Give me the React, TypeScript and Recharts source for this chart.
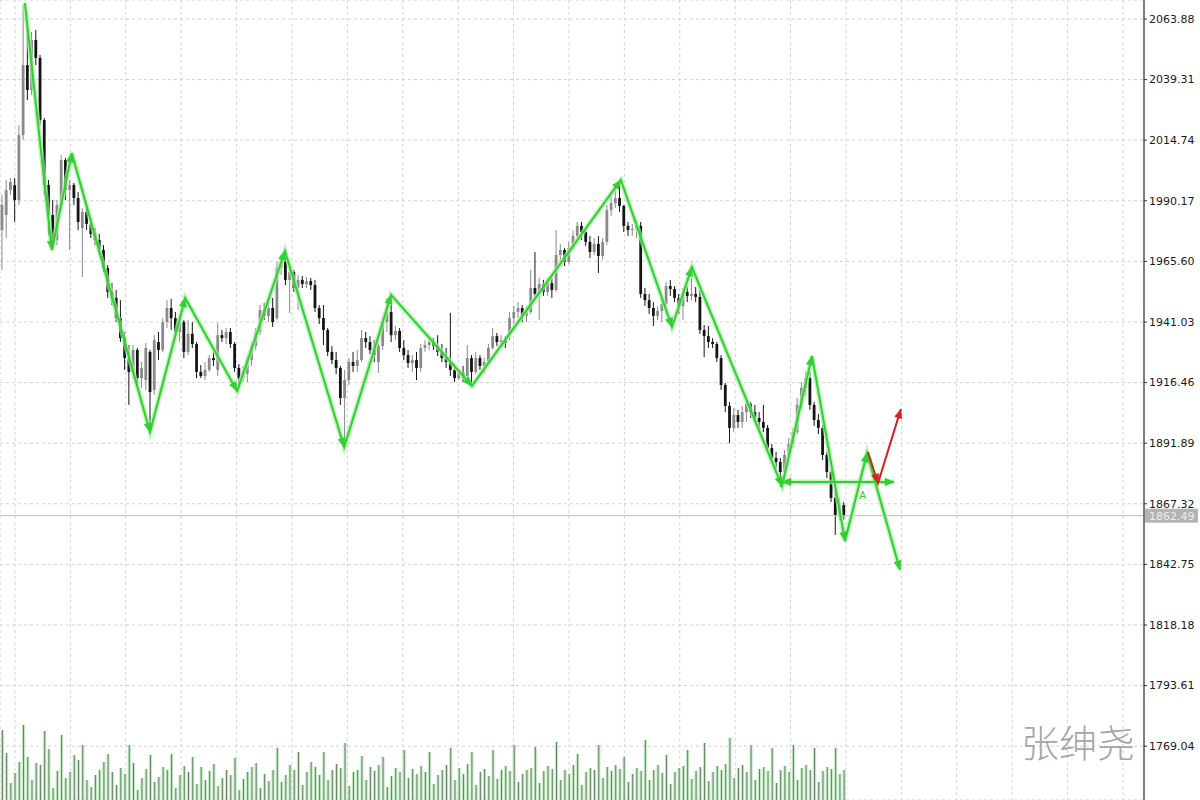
import React from 'react';
import {
  ComposedChart,
  Bar,
  Line,
  XAxis,
  YAxis,
  CartesianGrid,
  ReferenceLine,
  ReferenceDot,
} from 'recharts';

// [open, high, low, close]
const candles: [number, number, number, number][] = [
  [1978.3, 1992.5, 1962.1, 1988.5], [1984.4, 1998.6, 1975.1, 1994.5], [1994.5, 1999.4, 1992.5, 1997.8], [1996.5, 1999.4, 1981.6, 1990.5],
  [1990.5, 2020.9, 1988.5, 2016.8], [2016.8, 2069.6, 2014.8, 2045.2], [2045.2, 2063.5, 2031.0, 2035.1], [2035.1, 2058.6, 2033.1, 2055.4],
  [2055.4, 2059.4, 2045.2, 2048.1], [2048.1, 2049.3, 2020.9, 2022.9], [2022.9, 2023.7, 1992.5, 1996.6], [1996.6, 1998.6, 1976.3, 1984.4],
  [1984.4, 1990.5, 1971.0, 1974.3], [1974.3, 1990.5, 1972.2, 1988.5], [1988.5, 2008.7, 1986.4, 2006.7], [2006.7, 2007.5, 1990.5, 1994.5],
  [1994.5, 1998.6, 1970.2, 1996.6], [1996.6, 1997.4, 1988.5, 1991.3], [1991.3, 1993.7, 1978.3, 1981.6], [1979.1, 1987.2, 1959.3, 1985.6],
  [1985.6, 1987.2, 1978.3, 1980.8], [1980.8, 1983.2, 1975.1, 1976.7], [1976.7, 1979.1, 1972.2, 1974.3], [1974.3, 1976.7, 1968.2, 1970.2],
  [1970.2, 1972.2, 1961.3, 1962.9], [1962.9, 1964.1, 1950.8, 1953.2], [1953.2, 1956.8, 1947.9, 1950.8], [1950.8, 1954.0, 1941.0, 1942.6],
  [1942.6, 1949.9, 1932.9, 1934.5], [1934.5, 1937.0, 1921.6, 1926.4], [1926.4, 1931.7, 1907.4, 1920.8], [1920.8, 1931.7, 1918.3, 1929.7],
  [1929.7, 1930.5, 1915.5, 1918.3], [1918.3, 1924.8, 1914.3, 1922.4], [1917.5, 1932.5, 1913.5, 1930.5], [1928.9, 1929.7, 1898.1, 1912.6],
  [1913.5, 1935.7, 1911.4, 1933.7], [1932.9, 1937.0, 1925.6, 1929.7], [1929.7, 1942.6, 1928.9, 1941.0], [1941.0, 1949.9, 1938.6, 1946.7],
  [1946.7, 1950.4, 1937.8, 1942.6], [1942.6, 1945.1, 1934.5, 1937.0], [1937.0, 1942.6, 1932.9, 1941.0], [1941.0, 1941.8, 1926.4, 1928.9],
  [1928.9, 1941.8, 1927.6, 1936.2], [1936.2, 1941.0, 1930.5, 1932.1], [1932.1, 1932.9, 1918.3, 1920.8], [1920.8, 1923.6, 1918.3, 1919.1],
  [1919.1, 1924.8, 1917.5, 1921.6], [1921.6, 1927.6, 1920.8, 1926.4], [1926.4, 1928.9, 1923.2, 1925.6], [1921.6, 1940.6, 1919.1, 1935.7],
  [1935.7, 1937.8, 1932.9, 1934.5], [1934.5, 1938.6, 1932.1, 1937.0], [1937.0, 1938.6, 1930.5, 1932.1], [1932.1, 1932.9, 1920.8, 1922.4],
  [1922.4, 1924.0, 1914.3, 1918.3], [1918.3, 1923.2, 1916.7, 1920.8], [1920.0, 1927.2, 1916.7, 1925.6], [1925.6, 1932.9, 1923.2, 1931.3],
  [1931.3, 1938.6, 1929.7, 1937.0], [1937.0, 1947.9, 1935.7, 1945.9], [1945.9, 1948.7, 1941.8, 1943.5], [1943.5, 1949.9, 1941.0, 1946.7],
  [1946.7, 1950.8, 1939.0, 1941.0], [1942.6, 1965.4, 1941.8, 1962.9], [1962.9, 1968.2, 1960.1, 1965.4], [1965.4, 1967.0, 1956.0, 1958.1],
  [1958.1, 1962.9, 1944.7, 1961.3], [1961.3, 1962.1, 1953.2, 1954.8], [1954.8, 1960.1, 1945.9, 1958.1], [1958.1, 1959.7, 1954.8, 1956.4],
  [1956.4, 1959.3, 1954.8, 1957.6], [1957.6, 1958.9, 1954.0, 1956.0], [1956.0, 1958.1, 1945.1, 1946.7], [1946.7, 1947.9, 1940.2, 1942.6],
  [1942.6, 1947.9, 1931.7, 1937.8], [1937.8, 1938.6, 1927.2, 1928.9], [1928.9, 1931.3, 1924.0, 1925.6], [1925.6, 1928.9, 1919.9, 1922.4],
  [1922.4, 1923.2, 1907.4, 1910.2], [1910.2, 1921.6, 1892.4, 1917.5], [1917.5, 1926.4, 1915.5, 1924.8], [1924.8, 1928.9, 1920.8, 1923.2],
  [1923.2, 1929.7, 1920.8, 1925.6], [1925.6, 1937.8, 1924.8, 1934.5], [1934.5, 1937.0, 1930.5, 1932.9], [1932.9, 1935.3, 1928.0, 1929.7],
  [1929.7, 1933.7, 1924.8, 1927.6], [1924.8, 1932.5, 1920.4, 1931.3], [1931.3, 1942.6, 1929.7, 1941.0], [1941.0, 1950.8, 1937.0, 1945.1],
  [1945.1, 1947.9, 1932.9, 1935.7], [1935.7, 1939.4, 1933.7, 1937.4], [1937.4, 1938.6, 1928.9, 1930.5], [1930.5, 1933.7, 1925.6, 1927.6],
  [1927.6, 1929.7, 1922.4, 1924.4], [1924.4, 1927.6, 1920.8, 1925.6], [1925.6, 1928.9, 1917.5, 1922.4], [1922.4, 1932.1, 1920.8, 1930.5],
  [1930.5, 1933.7, 1928.9, 1931.7], [1931.7, 1934.9, 1929.7, 1932.9], [1932.9, 1934.5, 1929.7, 1931.3], [1931.3, 1935.7, 1927.2, 1928.9],
  [1928.9, 1932.1, 1924.8, 1926.4], [1926.4, 1930.5, 1922.4, 1924.8], [1924.8, 1944.7, 1919.1, 1921.6], [1921.6, 1924.0, 1916.7, 1918.3],
  [1918.3, 1922.4, 1917.5, 1920.4], [1920.4, 1923.2, 1916.7, 1919.1], [1919.1, 1931.7, 1918.3, 1926.4], [1926.4, 1927.6, 1915.9, 1920.8],
  [1920.8, 1928.9, 1919.9, 1926.4], [1926.4, 1927.6, 1921.6, 1923.2], [1923.2, 1926.4, 1919.9, 1924.8], [1924.8, 1932.1, 1924.0, 1930.5],
  [1930.5, 1938.6, 1929.7, 1935.3], [1935.3, 1936.6, 1931.3, 1932.9], [1932.9, 1935.7, 1930.9, 1933.7], [1933.7, 1935.3, 1930.5, 1932.5],
  [1935.7, 1945.1, 1933.7, 1942.6], [1942.6, 1947.5, 1940.2, 1945.1], [1945.1, 1949.1, 1942.6, 1946.7], [1946.7, 1947.9, 1941.0, 1943.5],
  [1943.5, 1947.5, 1941.0, 1945.1], [1945.1, 1962.1, 1944.3, 1954.8], [1954.8, 1969.4, 1949.9, 1952.4], [1952.4, 1958.9, 1941.8, 1956.4],
  [1956.4, 1958.1, 1951.6, 1953.2], [1953.2, 1958.9, 1951.6, 1956.8], [1956.8, 1958.9, 1950.8, 1954.0], [1954.0, 1978.3, 1953.2, 1968.2],
  [1968.2, 1972.7, 1965.4, 1970.2], [1970.2, 1971.0, 1963.7, 1965.4], [1965.4, 1973.5, 1964.5, 1971.0], [1971.0, 1978.3, 1970.2, 1975.9],
  [1975.9, 1981.6, 1974.3, 1980.0], [1980.0, 1981.6, 1974.3, 1977.5], [1977.5, 1978.3, 1971.8, 1973.5], [1973.5, 1975.9, 1967.0, 1969.4],
  [1969.4, 1975.1, 1968.2, 1972.7], [1972.7, 1975.9, 1960.9, 1967.8], [1967.8, 1975.1, 1966.2, 1973.5], [1973.5, 1988.5, 1972.2, 1986.4],
  [1986.4, 1992.1, 1984.0, 1989.3], [1989.3, 1994.5, 1987.2, 1991.3], [1991.3, 1997.0, 1985.6, 1988.1], [1988.1, 1988.5, 1977.5, 1980.0],
  [1980.0, 1981.6, 1975.9, 1978.3], [1978.3, 1980.8, 1975.9, 1978.7], [1978.7, 1982.4, 1975.1, 1980.0], [1980.0, 1981.6, 1950.8, 1952.4],
  [1952.4, 1954.8, 1947.5, 1949.9], [1949.9, 1952.4, 1944.3, 1946.7], [1946.7, 1949.1, 1939.4, 1943.5], [1943.5, 1947.5, 1941.8, 1945.5],
  [1945.5, 1950.8, 1941.0, 1948.3], [1948.3, 1957.2, 1947.5, 1955.6], [1955.6, 1958.1, 1951.6, 1954.4], [1954.4, 1955.6, 1949.1, 1950.8],
  [1950.8, 1952.4, 1944.3, 1947.5], [1947.5, 1954.8, 1941.8, 1953.2], [1953.2, 1955.2, 1949.1, 1951.6], [1951.6, 1958.9, 1949.9, 1952.4],
  [1952.4, 1955.2, 1949.1, 1951.2], [1951.2, 1954.0, 1936.2, 1937.8], [1937.8, 1939.8, 1926.8, 1935.3], [1935.3, 1939.4, 1930.5, 1932.9],
  [1932.9, 1934.5, 1930.5, 1932.1], [1932.1, 1932.9, 1924.8, 1926.4], [1926.4, 1927.6, 1913.5, 1915.5], [1915.5, 1916.3, 1904.5, 1907.0],
  [1907.0, 1908.6, 1891.9, 1898.1], [1898.1, 1906.2, 1896.4, 1903.3], [1903.3, 1905.4, 1898.1, 1900.5], [1900.5, 1907.0, 1898.1, 1904.5],
  [1904.5, 1910.2, 1900.5, 1907.8], [1907.8, 1908.6, 1902.1, 1904.5], [1904.5, 1907.4, 1900.5, 1902.1], [1902.1, 1904.5, 1898.1, 1900.5],
  [1900.5, 1907.4, 1896.4, 1898.1], [1898.1, 1899.3, 1888.3, 1889.9], [1889.9, 1891.6, 1884.3, 1885.9], [1885.9, 1888.3, 1881.8, 1884.3],
  [1884.3, 1885.9, 1874.1, 1880.2], [1880.2, 1889.1, 1877.8, 1887.1], [1887.1, 1894.0, 1885.9, 1891.6], [1891.6, 1898.1, 1889.9, 1896.4],
  [1896.4, 1910.2, 1895.6, 1907.4], [1907.4, 1916.7, 1906.2, 1914.3], [1914.3, 1920.8, 1911.0, 1918.3], [1918.3, 1920.8, 1905.4, 1907.4],
  [1907.4, 1908.6, 1898.9, 1901.3], [1901.3, 1903.7, 1895.6, 1898.1], [1898.1, 1899.3, 1885.1, 1887.1], [1887.1, 1888.3, 1877.8, 1880.2],
  [1880.2, 1881.0, 1868.0, 1869.7], [1869.7, 1872.9, 1854.7, 1862.8], [1862.8, 1869.7, 1860.8, 1866.8], [1866.8, 1868.0, 1860.8, 1862.49],
];

const volumes: number[] = [
  700, 470, 170, 270, 380, 750, 430, 200, 370, 350, 690, 510, 120, 290, 650, 220, 280, 450, 400, 550,
  200, 130, 250, 300, 380, 460, 280, 150, 320, 260, 550, 370, 100, 220, 310, 450, 180, 230, 330, 300,
  460, 120, 250, 340, 280, 430, 160, 330, 200, 290, 360, 140, 220, 300, 250, 420, 100, 210, 280, 330,
  370, 120, 260, 190, 300, 520, 180, 250, 350, 300, 480, 150, 280, 380, 330, 250, 480, 200, 300, 360,
  320, 570, 140, 280, 300, 440, 200, 330, 290, 350, 430, 130, 240, 320, 280, 500, 220, 310, 260, 340,
  280, 480, 160, 250, 300, 350, 520, 200, 320, 260, 360, 480, 150, 280, 310, 240, 500, 210, 300, 340,
  290, 550, 180, 260, 300, 320, 530, 170, 290, 340, 310, 580, 200, 300, 260, 350, 460, 150, 280, 320,
  300, 550, 220, 330, 290, 350, 310, 430, 180, 260, 320, 290, 600, 200, 300, 350, 270, 450, 160, 280,
  320, 340, 500, 210, 290, 330, 570, 190, 280, 340, 300, 360, 620, 220, 320, 350, 280, 550, 200, 310,
  330, 290, 520, 170, 300, 340, 280, 550, 200, 320, 350, 300, 520, 180, 290, 330, 310, 520, 260, 300,
];

// zigzag pivots: [bar index, price]
const zigzag: [number, number][] = [
  [5.4, 2070.4], [11.8, 1970.2], [16.5, 2009.5], [35.0, 1896.4], [43.3, 1950.8], [55.6, 1913.0],
  [66.9, 1969.8], [80.9, 1890.3], [92.0, 1952.0], [111.1, 1915.1], [146.3, 1998.6], [158.4, 1939.0],
  [163.1, 1963.3], [184.4, 1874.5], [191.5, 1927.2], [199.3, 1852.2], [204.5, 1887.9], [212.3, 1840.5],
];
const levelLine: [number, number][] = [[184.4, 1876.2], [210.9, 1876.2]];
const redPath: [number, number][] = [[204.7, 1888.3], [207.1, 1875.7], [212.5, 1905.7]];

const yTicks = [2063.88, 2039.31, 2014.74, 1990.17, 1965.6, 1941.03, 1916.46, 1891.89, 1867.32, 1842.75, 1818.18, 1793.61, 1769.04];
const gridX = [3.07, 16.17, 29.26, 42.36, 55.46, 68.56, 81.65, 94.75, 107.85, 120.94, 134.04, 147.14, 160.23, 173.33, 186.43, 199.53, 212.62, 225.72, 238.82, 251.91, 265.01];
const lastPrice = 1862.49;
const xDomain: [number, number] = [-0.47, 269.98];
const yDomain: [number, number] = [1747.22, 2071.58];

const CHART_W = 1200;
const CHART_H = 800;
const AXIS_W = 56;
// pixel-per-unit ratios, only used to orient the arrow heads
const KX = (CHART_W - AXIS_W) / (xDomain[1] - xDomain[0]);
const KY = CHART_H / (yDomain[1] - yDomain[0]);

const data = candles.map(([o, h, l, c], i) => ({ x: i, o, h, l, c, hl: [l, h], vol: volumes[i] }));

// each point carries the direction of the segment arriving at it (first point: pointing away from the next)
const toPts = (arr: [number, number][], arrowFirst: boolean) =>
  arr.map(([x, p], i) => {
    const ref = i === 0 ? arr[1] : arr[i - 1];
    return { x, p, dx: x - ref[0], dp: p - ref[1], arrow: i > 0 || arrowFirst };
  });

const CandleShape = (props: any) => {
  const { x, y, width, height, payload } = props;
  if (x == null || y == null || !payload) return <g />;
  const { o, h, l, c } = payload;
  const cx = x + width / 2;
  const span = h - l || 1;
  const yOf = (v: number) => y + ((h - v) / span) * height;
  const top = yOf(Math.max(o, c));
  const bot = yOf(Math.min(o, c));
  const color = c >= o ? '#8a8a8a' : '#151515';
  return (
    <g>
      <line x1={cx} x2={cx} y1={y} y2={y + height} stroke={color} strokeWidth={1} />
      <rect x={cx - 1.4} y={top} width={2.8} height={Math.max(1, bot - top)} fill={color} />
    </g>
  );
};

const VolShape = (props: any) => {
  const { x, y, width, height } = props;
  if (x == null || y == null) return <g />;
  const cx = x + width / 2;
  return (
    <g>
      <rect x={cx - 1.6} y={y} width={3.2} height={height} fill="#c6e8c6" />
      <line x1={cx} x2={cx} y1={y} y2={y + height} stroke="#60865f" strokeWidth={1} />
    </g>
  );
};

const makeArrow = (color: string, size = 9) => (props: any) => {
  const { cx, cy, index, payload } = props;
  const key = `a-${index}`;
  if (cx == null || cy == null || !payload || !payload.arrow) return <g key={key} />;
  const vx = payload.dx * KX;
  const vy = -payload.dp * KY;
  const len = Math.hypot(vx, vy) || 1;
  const ux = vx / len;
  const uy = vy / len;
  const w = size * 0.42;
  const bx = cx - ux * size;
  const by = cy - uy * size;
  const pts = `${cx},${cy} ${bx - uy * w},${by + ux * w} ${bx + uy * w},${by - ux * w}`;
  return <polygon key={key} points={pts} fill={color} stroke={color} strokeWidth={0.5} />;
};

const GREEN = '#2fd02f';
const GLOW = '#a6eea6';
const RED = '#d42222';

const PriceLabel = (props: any) => {
  const vb = props.viewBox;
  if (!vb) return null;
  const x = vb.x + vb.width + 1;
  const y = vb.y;
  return (
    <g>
      <rect x={x} y={y - 7} width={53} height={14} fill="#b4b4b4" />
      <text x={x + 4} y={y + 4} fontSize={11} fontFamily="DejaVu Sans" fill="#ececec">
        {lastPrice.toFixed(2)}
      </text>
    </g>
  );
};

const zigPts = toPts(zigzag, false);
const levelPts = toPts(levelLine, true);
const redPts = toPts(redPath, false);

export default function App() {
  return (
    <div style={{ position: 'absolute', left: 0, top: 0, width: CHART_W, height: CHART_H, background: '#ffffff', overflow: 'hidden' }}>
      <ComposedChart width={CHART_W} height={CHART_H} data={data} margin={{ top: 0, right: 0, bottom: 0, left: 0 }}>
        <CartesianGrid xAxisId="main" yAxisId="price" stroke="#d3d3d3" strokeDasharray="3 3" />
        <XAxis xAxisId="main" dataKey="x" type="number" domain={xDomain} ticks={gridX} allowDataOverflow hide />
        <XAxis xAxisId="vx" dataKey="x" type="number" domain={xDomain} allowDataOverflow hide />
        <YAxis
          yAxisId="price"
          orientation="right"
          width={AXIS_W}
          type="number"
          domain={yDomain}
          ticks={yTicks}
          allowDataOverflow
          interval={0}
          tickFormatter={(v: number) => v.toFixed(2)}
          tick={{ fontSize: 11, fontFamily: 'DejaVu Sans', fill: '#1a1a1a' }}
          tickSize={3}
          tickMargin={2}
          tickLine={{ stroke: '#333' }}
          axisLine={{ stroke: '#555', strokeWidth: 1.5 }}
        />
        <YAxis yAxisId="vol" type="number" domain={[0, 8000]} hide allowDataOverflow />
        <Bar xAxisId="vx" yAxisId="vol" dataKey="vol" barSize={3} shape={<VolShape />} isAnimationActive={false} />
        <Bar xAxisId="main" yAxisId="price" dataKey="hl" barSize={3} shape={<CandleShape />} isAnimationActive={false} />
        <ReferenceLine xAxisId="main" yAxisId="price" y={lastPrice} stroke="#bdbdbd" strokeWidth={1} label={<PriceLabel />} />
        <Line xAxisId="main" yAxisId="price" data={zigPts} dataKey="p" type="linear" stroke={GLOW} strokeWidth={5} strokeOpacity={0.7} dot={false} activeDot={false} isAnimationActive={false} />
        <Line xAxisId="main" yAxisId="price" data={levelPts} dataKey="p" type="linear" stroke={GLOW} strokeWidth={5} strokeOpacity={0.7} dot={false} activeDot={false} isAnimationActive={false} />
        <Line xAxisId="main" yAxisId="price" data={zigPts} dataKey="p" type="linear" stroke={GREEN} strokeWidth={2} dot={makeArrow(GREEN)} activeDot={false} isAnimationActive={false} />
        <Line xAxisId="main" yAxisId="price" data={levelPts} dataKey="p" type="linear" stroke={GREEN} strokeWidth={2} dot={makeArrow(GREEN)} activeDot={false} isAnimationActive={false} />
        <Line xAxisId="main" yAxisId="price" data={redPts} dataKey="p" type="linear" stroke={RED} strokeWidth={2} dot={makeArrow(RED)} activeDot={false} isAnimationActive={false} />
        <ReferenceDot xAxisId="main" yAxisId="price" x={203.5} y={1870.5} r={0.1} fill="none" stroke="none" label={{ value: 'A', position: 'center', fill: GREEN, fontSize: 10, fontFamily: 'DejaVu Sans' }} />
      </ComposedChart>
      <div
        style={{
          position: 'absolute',
          left: 1021,
          top: 721,
          fontSize: 38,
          lineHeight: '40px',
          fontFamily: '"Noto Sans CJK SC", sans-serif',
          fontWeight: 300,
          color: '#a6a6a6',
          whiteSpace: 'nowrap',
        }}
      >
        张绅尧
      </div>
    </div>
  );
}
